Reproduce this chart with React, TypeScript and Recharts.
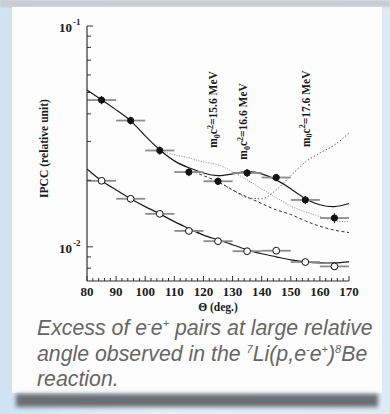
import { ComposedChart, Line, Scatter, XAxis, YAxis, ErrorBar, ReferenceDot, Label } from "recharts";

// measured points (center of each 10 deg bin)
const angles = [85, 95, 105, 115, 125, 135, 145, 155, 165];
const angleHalfWidth = [5, 5, 5, 5, 5, 5, 5, 5, 5];
const ipccFilled = [0.0462, 0.0373, 0.0273, 0.0218, 0.0198, 0.0216, 0.0206, 0.0163, 0.0135];
const ipccFilledErr = [0.002, 0.0015, 0.0012, 0.0009, 0.0008, 0.0009, 0.0008, 0.0007, 0.0007];
const ipccOpen = [0.0199, 0.0165, 0.0141, 0.0118, 0.0106, 0.00955, 0.0096, 0.00853, 0.00815];
const ipccOpenErr = [0.0006, 0.0005, 0.0004, 0.0004, 0.0003, 0.0003, 0.0003, 0.0003, 0.0003];

// curves
const fitTheta = [80, 85, 90, 95, 100, 105, 110, 115, 120, 125, 130, 135, 140, 145, 150, 155, 160, 165, 170];
const fitUpper = [0.0513, 0.0463, 0.0417, 0.0372, 0.0318, 0.0275, 0.0245, 0.0228, 0.0216, 0.021, 0.0214, 0.0219, 0.0214, 0.0201, 0.0183, 0.0165, 0.0155, 0.0152, 0.0157];
const fitLower = [0.0225, 0.0199, 0.0181, 0.0165, 0.0152, 0.0141, 0.013, 0.0121, 0.0113, 0.01076, 0.01021, 0.00969, 0.0093, 0.00901, 0.00873, 0.00855, 0.00846, 0.00846, 0.00855];
const bgTheta = [115, 120, 125, 130, 135, 140, 145, 150, 155, 160, 165, 170];
const bgCurve = [0.0223, 0.021, 0.0197, 0.0181, 0.0168, 0.0157, 0.0147, 0.014, 0.0131, 0.0124, 0.0119, 0.0116];
const m156Theta = [105, 110, 115, 120, 125, 130, 135, 140, 145, 150, 155, 160, 165, 170];
const m156Curve = [0.0273, 0.0261, 0.0253, 0.0242, 0.0235, 0.0219, 0.0201, 0.0183, 0.0167, 0.0153, 0.0144, 0.0137, 0.0131, 0.013];
const m176Theta = [125, 130, 135, 140, 145, 150, 155, 160, 165, 170];
const m176Curve = [0.0197, 0.0181, 0.0167, 0.0165, 0.0181, 0.021, 0.0242, 0.0266, 0.0289, 0.0328];

const massLabels = ["15.6", "16.6", "17.6"];
const massTheta = [123.3, 133.6, 155.2];
const massIpcc = [0.0281, 0.0248, 0.0283];

const xMajor = [80, 90, 100, 110, 120, 130, 140, 150, 160, 170];
const xMinor = [82, 84, 86, 88, 92, 94, 96, 98, 102, 104, 106, 108, 112, 114, 116, 118, 122, 124, 126, 128, 132, 134, 136, 138, 142, 144, 146, 148, 152, 154, 156, 158, 162, 164, 166, 168];
const yMajor = [0.01, 0.1];
const yMajorText = ["-2", "-1"];
const yMinor = [0.008, 0.009, 0.02, 0.03, 0.04, 0.05, 0.06, 0.07, 0.08, 0.09];

const filledData = angles.map((x, i) => ({ x, y: ipccFilled[i], ex: angleHalfWidth[i], ey: ipccFilledErr[i] }));
const openData = angles.map((x, i) => ({ x, y: ipccOpen[i], ex: angleHalfWidth[i], ey: ipccOpenErr[i] }));
const toLine = (xs: number[], ys: number[]) => xs.map((x, i) => ({ x, y: ys[i] }));

const SERIF = "'Liberation Serif', 'Times New Roman', serif";

const XTick = (props: any) => {
  const { x, y, payload } = props;
  const major = xMajor.includes(payload.value);
  return (
    <g>
      <line x1={x} x2={x} y1={y} y2={y - (major ? 5 : 3)} stroke="#333" strokeWidth={1} />
      {major && (
        <text x={x} y={y + 15} textAnchor="middle" fontFamily={SERIF} fontWeight="bold" fontSize={13} fill="#1a1a1a">
          {payload.value}
        </text>
      )}
    </g>
  );
};

const YTick = (props: any) => {
  const { x, y, payload } = props;
  const idx = yMajor.indexOf(payload.value);
  const major = idx >= 0;
  return (
    <g>
      <line x1={x} x2={x + (major ? 6 : 4)} y1={y} y2={y} stroke="#333" strokeWidth={1} />
      {major && (
        <text x={x - 15} y={y + 6} textAnchor="end" fontFamily={SERIF} fontWeight="bold" fontSize={13} fill="#1a1a1a">
          10
        </text>
      )}
      {major && (
        <text x={x - 14} y={y - 1} textAnchor="start" fontFamily={SERIF} fontWeight="bold" fontSize={9} fill="#1a1a1a">
          {yMajorText[idx]}
        </text>
      )}
    </g>
  );
};

const massShape = (label: string) => (props: any) => {
  const { cx, cy } = props;
  return (
    <g transform={`translate(${cx},${cy}) rotate(-90)`}>
      <text x={0} y={4} fontFamily={SERIF} fontWeight="bold" fontSize={11.5} fill="#1a1a1a">
        m<tspan fontSize={8} dy={2.5}>0</tspan>
        <tspan dy={-2.5}>c</tspan>
        <tspan fontSize={8} dy={-4.5}>2</tspan>
        <tspan dy={4.5}>={label} MeV</tspan>
      </text>
    </g>
  );
};

const OpenDot = (props: any) => <circle cx={props.cx} cy={props.cy} r={3.4} fill="#fff" stroke="#111" strokeWidth={1} />;
const FilledDot = (props: any) => <circle cx={props.cx} cy={props.cy} r={3.1} fill="#111" stroke="#111" strokeWidth={1} />;

const supStyle = { fontSize: 11, lineHeight: 0 };

export default function App() {
  return (
    <div style={{ position: "absolute", left: 0, top: 0, width: 390, height: 414, overflow: "hidden", background: "linear-gradient(90deg, #cfe3f2 0%, #e4eff8 40%, #dcebf6 100%)" }}>
      <div style={{ position: "absolute", left: 0, top: 0, width: 390, height: 7, background: "#c9ccd3", filter: "blur(1px)" }} />
      <div style={{ position: "absolute", left: 12, top: 7, width: 370, height: 386, background: "#fdfdfd" }} />
      <div style={{ position: "absolute", left: 16, top: 394, width: 362, height: 13, background: "#6b6e72", filter: "blur(2px)" }} />

      <div style={{ position: "absolute", left: 0, top: 0 }}>
        <ComposedChart width={390} height={320} margin={{ top: 26, right: 41, left: 37, bottom: 9 }}>
          <XAxis
            xAxisId="b"
            dataKey="x"
            type="number"
            domain={[80, 170]}
            ticks={[...xMajor, ...xMinor].sort((a, b) => a - b)}
            interval={0}
            tick={<XTick />}
            tickLine={false}
            tickSize={0}
            tickMargin={0}
            height={30}
            axisLine={{ stroke: "#333", strokeWidth: 1.2 }}
          >
            <Label
              content={(p: any) => (
                <text x={p.viewBox.x + p.viewBox.width / 2} y={p.viewBox.y + 30} textAnchor="middle" fontFamily={SERIF} fontWeight="bold" fontSize={11.5} fill="#1a1a1a">
                  Θ (deg.)
                </text>
              )}
            />
          </XAxis>
          <XAxis xAxisId="t" orientation="top" dataKey="x" type="number" domain={[80, 170]} tick={false} tickLine={false} height={0} axisLine={{ stroke: "#444", strokeWidth: 1 }} />
          <YAxis
            yAxisId="l"
            scale="log"
            type="number"
            domain={[0.007, 0.1]}
            allowDataOverflow
            ticks={[...yMinor, ...yMajor].sort((a, b) => a - b)}
            interval={0}
            tick={<YTick />}
            tickLine={false}
            tickSize={0}
            tickMargin={0}
            width={50}
            axisLine={{ stroke: "#333", strokeWidth: 1.2 }}
          >
            <Label
              content={(p: any) => {
                const cx = p.viewBox.x + 7;
                const cy = p.viewBox.y + p.viewBox.height / 2 - 5;
                return (
                  <text transform={`translate(${cx},${cy}) rotate(-90)`} x={0} y={4} textAnchor="middle" fontFamily={SERIF} fontWeight="bold" fontSize={11.6} fill="#1a1a1a">
                    IPCC (relative unit)
                  </text>
                );
              }}
            />
          </YAxis>
          <YAxis yAxisId="r" orientation="right" scale="log" type="number" domain={[0.007, 0.1]} allowDataOverflow tick={false} tickLine={false} width={0} axisLine={{ stroke: "#777", strokeWidth: 1.2 }} />

          <Line xAxisId="b" yAxisId="l" data={toLine(bgTheta, bgCurve)} dataKey="y" type="natural" stroke="#333" strokeWidth={1} strokeDasharray="3 2.5" dot={false} activeDot={false} isAnimationActive={false} />
          <Line xAxisId="b" yAxisId="l" data={toLine(m156Theta, m156Curve)} dataKey="y" type="natural" stroke="#8a8a8a" strokeWidth={1} strokeDasharray="1 1.5" dot={false} activeDot={false} isAnimationActive={false} />
          <Line xAxisId="b" yAxisId="l" data={toLine(m176Theta, m176Curve)} dataKey="y" type="monotone" stroke="#444" strokeWidth={1} strokeDasharray="1.2 2.2" dot={false} activeDot={false} isAnimationActive={false} />
          <Line xAxisId="b" yAxisId="l" data={toLine(fitTheta, fitUpper)} dataKey="y" type="natural" stroke="#1a1a1a" strokeWidth={1.2} dot={false} activeDot={false} isAnimationActive={false} />
          <Line xAxisId="b" yAxisId="l" data={toLine(fitTheta, fitLower)} dataKey="y" type="natural" stroke="#1a1a1a" strokeWidth={1.2} dot={false} activeDot={false} isAnimationActive={false} />

          <Scatter xAxisId="b" yAxisId="l" data={openData} dataKey="y" shape={<OpenDot />} isAnimationActive={false}>
            <ErrorBar dataKey="ex" direction="x" width={0} stroke="#8c8c8c" strokeWidth={1.8} />
            <ErrorBar dataKey="ey" direction="y" width={0} stroke="#222" strokeWidth={1} />
          </Scatter>
          <Scatter xAxisId="b" yAxisId="l" data={filledData} dataKey="y" shape={<FilledDot />} isAnimationActive={false}>
            <ErrorBar dataKey="ex" direction="x" width={0} stroke="#8c8c8c" strokeWidth={1.8} />
            <ErrorBar dataKey="ey" direction="y" width={0} stroke="#222" strokeWidth={1} />
          </Scatter>

          {massLabels.map((m, i) => (
            <ReferenceDot key={m} xAxisId="b" yAxisId="l" x={massTheta[i]} y={massIpcc[i]} r={0} shape={massShape(m)} ifOverflow="visible" />
          ))}
        </ComposedChart>
      </div>

      <div
        style={{
          position: "absolute",
          left: 37,
          top: 316,
          width: 350,
          fontFamily: "'Liberation Sans', Arial, sans-serif",
          fontStyle: "italic",
          fontSize: 21.3,
          lineHeight: "25.5px",
          color: "#666",
          whiteSpace: "nowrap",
        }}
      >
        <div>
          Excess of e<sup style={supStyle}>-</sup>e<sup style={supStyle}>+</sup> pairs at large relative
        </div>
        <div>
          angle observed in the <sup style={supStyle}>7</sup>Li(p,e<sup style={supStyle}>-</sup>e<sup style={supStyle}>+</sup>)<sup style={supStyle}>8</sup>Be
        </div>
        <div>reaction.</div>
      </div>
    </div>
  );
}
